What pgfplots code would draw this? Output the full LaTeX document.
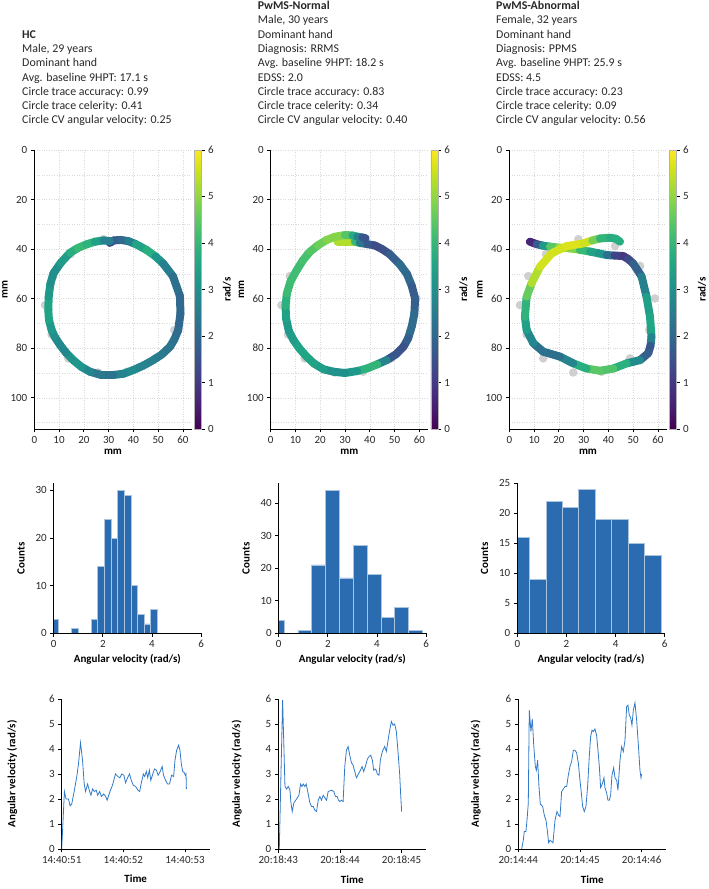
\documentclass[border=0pt]{standalone}
\usepackage{pgfplots}
\pgfplotsset{compat=1.18}
\usepackage{fontspec}
\setmainfont{Carlito}

\definecolor{barblue}{RGB}{43,108,176}
\definecolor{lineblue}{RGB}{50,122,200}
\definecolor{dotgray}{RGB}{200,200,200}
\definecolor{ink}{RGB}{40,40,40}

\newcommand{\tickfont}{\fontsize{11}{12}\selectfont}
\newcommand{\txtfont}{\fontsize{11.9}{14.3}\selectfont}

\pgfplotsset{
  every axis/.append style={
    /pgf/number format/assume math mode=true,
    tick label style={font=\tickfont, text=ink},
    label style={font=\tickfont\bfseries, text=black},
  },
  base/.style={
    scale only axis, anchor=center,
    axis x line=bottom, axis y line=left,
    axis line style={-, line width=0.9pt, black},
    tick align=outside, major tick length=3.5pt, minor tick length=0pt,
    tick style={line width=0.8pt, black},
  },
  trace/.style={
    base, clip mode=individual,
    width=157.3pt, height=279pt,
    xmin=0, xmax=63.5, ymin=0, ymax=112.6, y dir=reverse,
    xtick={0,10,...,60}, ytick={0,20,...,100}, minor ytick={10,30,...,110},
    grid=both, grid style={dotted, gray!30, line width=0.5pt},
    minor grid style={dotted, gray!30, line width=0.5pt},
    xlabel={mm}, ylabel={mm}, ylabel shift=-4pt, xlabel shift=-1pt,
    colorbar, colormap name=viridis,
    point meta min=0, point meta max=6,
    colorbar shift/.style={xshift=2.5pt},
    colorbar style={width=7pt, y dir=normal, ytick={0,1,...,6},
      yticklabel pos=right, ytick pos=right, ylabel={rad/s}, ylabel near ticks,
      ylabel shift=2.5pt, ylabel style={font=\tickfont\bfseries},
      tick align=outside, major tick length=3pt,
      tick style={line width=0.8pt, black}, axis line style={line width=0.5pt, gray!60}},
  },
  hist/.style={
    base, width=147.4pt, height=150pt, axis on top,
    xmin=0, xmax=6, ymin=0, xtick={0,2,4,6},
    xlabel={Angular velocity (rad/s)}, ylabel={Counts}, ylabel shift=4pt,
  },
  speed/.style={
    base, width=148pt, height=150pt,
    xmin=0, xmax=2.4, ymin=0, ymax=6, ytick={0,1,...,6}, xtick={0,1,2},
    xlabel={Time}, ylabel={Angular velocity (rad/s)}, xlabel shift=5pt,
  },
  bars/.style={ybar interval, fill=barblue, draw=white!60!barblue, line width=0.5pt},
  dots/.style={only marks, mark=*, mark size=4pt, color=dotgray,
    mark options={fill=dotgray, draw=dotgray, opacity=0.85}},
  path/.style={mesh, point meta=explicit, line width=8pt, line cap=round, line join=round},
}

\begin{document}
\begin{tikzpicture}
\useasboundingbox (0pt,0pt) rectangle (709pt,889pt);

% patient notes
\begin{scope}[every node/.style={anchor=base west, inner sep=0pt, font=\txtfont, text=ink}]
\node[font=\txtfont\bfseries] at (22pt,850.8pt) {HC};
\node at (22pt,836.5pt) {Male, 29 years};
\node at (22pt,822.2pt) {Dominant hand};
\node at (22pt,807.9pt) {Avg. baseline 9HPT: 17.1 s};
\node at (22pt,793.6pt) {Circle trace accuracy: 0.99};
\node at (22pt,779.3pt) {Circle trace celerity: 0.41};
\node at (22pt,765.0pt) {Circle CV angular velocity: 0.25};

\node[font=\txtfont\bfseries] at (257.7pt,879.4pt) {PwMS-Normal};
\node at (257.7pt,865.1pt) {Male, 30 years};
\node at (257.7pt,850.8pt) {Dominant hand};
\node at (257.7pt,836.5pt) {Diagnosis: RRMS};
\node at (257.7pt,822.2pt) {Avg. baseline 9HPT: 18.2 s};
\node at (257.7pt,807.9pt) {EDSS: 2.0};
\node at (257.7pt,793.6pt) {Circle trace accuracy: 0.83};
\node at (257.7pt,779.3pt) {Circle trace celerity: 0.34};
\node at (257.7pt,765.0pt) {Circle CV angular velocity: 0.40};

\node[font=\txtfont\bfseries] at (496pt,879.4pt) {PwMS-Abnormal};
\node at (496pt,865.1pt) {Female, 32 years};
\node at (496pt,850.8pt) {Dominant hand};
\node at (496pt,836.5pt) {Diagnosis: PPMS};
\node at (496pt,822.2pt) {Avg. baseline 9HPT: 25.9 s};
\node at (496pt,807.9pt) {EDSS: 4.5};
\node at (496pt,793.6pt) {Circle trace accuracy: 0.23};
\node at (496pt,779.3pt) {Circle trace celerity: 0.09};
\node at (496pt,765.0pt) {Circle CV angular velocity: 0.56};
\end{scope}

% ---- row 1: traces
\begin{axis}[trace, at={(112.95pt,599.5pt)}]
\addplot[dots] coordinates {(27.9,36) (42.7,38.8) (52.8,46.8) (58.8,59.9) (56.5,72.7)
  (48.7,84.1) (37.3,89.5) (25.8,89.8) (13.7,84.1) (7,74.5) (4.3,62.6) (7.7,50.9) (14.8,42)};
\addplot[path] table[meta=v] {
x y v
30.5 37.5 1.0
32 36.5 1.6
35 36.3 1.9
38 36.8 2.2
41 38 3.0
45.4 40.4 4.0
49 43 3.5
52 45.8 2.8
56 51 2.3
58.8 59 2.1
59 66 2.0
58.1 72.7 2.0
56.5 76.5 2.2
54.8 79.4 2.3
51.5 82.5 2.4
48 84.8 2.6
44 87 2.6
40 88.8 2.8
36 90.3 3.0
31.9 90.8 2.4
27 90.8 2.2
22.5 89.5 2.6
19 87.5 3.0
15.7 84.8 3.3
12.8 81.8 2.9
10.4 78.7 2.7
8.3 75.5 2.9
7 72.7 3.1
5.9 68.5 3.4
5.65 64.6 3.6
5.8 59.2 3.4
6.5 54 3.1
7.7 49.8 2.9
10.7 45.5 3.1
14.4 41.5 3.5
17.5 39.6 4.0
21 38.1 4.1
24.5 37 3.7
28 36.5 3.1
30.5 36.8 2.2
};
\end{axis}

\begin{axis}[trace, at={(349.35pt,599.5pt)}]
\addplot[dots] coordinates {(27.9,36) (42.7,38.8) (52.8,46.8) (58.8,59.9) (56.5,72.7)
  (48.7,84.1) (37.3,89.5) (25.8,89.8) (13.7,84.1) (7,74.5) (4.3,62.6) (7.7,50.9) (14.8,42)};
\addplot[path] table[meta=v] {
x y v
27 37 5.0
31 37 5.6
34 37 5.0
36 37.5 3.0
39 38 1.8
42 38.5 1.5
45 40 1.3
48 42 1.6
52 46 2.0
55 50 2.2
57 55 1.8
58.3 60 1.6
58 66 2.0
57 71 2.2
55.5 76 2.0
53.6 79.4 1.6
50.5 82.5 1.4
46.8 84.8 1.8
43 86.5 3.6
38.8 88.2 4.3
35 89.2 3.5
30 90 3.0
25.5 89.5 3.0
21.3 88.5 3.2
17.5 86.2 3.5
14.5 83.4 3.5
11.5 80 3.6
9.2 76.7 3.4
7.3 73 3.2
6.2 68 3.3
6 63 3.6
6.5 58 4.0
8 53 4.2
10.5 48.5 4.1
13 44.5 4.2
15.9 41 4.3
19 38.5 4.5
22.6 36.3 4.8
26 35 5.0
30 34.3 4.8
33 34.5 4.0
35 35 3.3
37 35.3 2.0
38.3 35.6 1.2
};
\end{axis}

\begin{axis}[trace, at={(587.95pt,599.5pt)}]
\addplot[dots] coordinates {(27.9,36) (42.7,38.8) (52.8,46.8) (58.8,59.9) (56.5,72.7)
  (48.7,84.1) (37.3,89.5) (25.8,89.8) (13.7,84.1) (7,74.5) (4.3,62.6) (7.7,50.9) (14.8,42)};
\addplot[path] table[meta=v] {
x y v
8.3 37 0.4
11 38 0.9
13.5 38.6 2.5
16.4 39 4.0
20 39.4 4.9
24.5 39.7 5.3
28.5 40.3 4.5
32.6 41 3.6
36 41.7 3.4
39.3 42.4 3.0
42.5 42.6 1.5
46 42.8 0.9
48 44 1.1
50 45.8 1.6
53.4 51 2.2
55.4 59.2 3.0
56.8 67.3 3.8
57.4 75.4 3.3
57 79 2.0
56.1 82 1.2
52.8 84.8 2.4
47.4 86.1 3.4
42 88.2 4.2
36.6 89.1 4.5
31.2 88.2 4.4
25.8 86.1 3.1
20.5 83.4 2.3
13.7 81.4 2.1
9.7 78 2.4
7 72.7 3.2
6.3 67.3 3.6
7 59.2 4.2
9 53.8 5.0
12.4 47.1 5.6
17.1 41.7 5.6
23.1 38.8 5.6
29.9 37.7 5.8
33.5 36.5 5.3
36.6 35.7 4.2
40.6 35.4 3.7
43 35.8 3.7
44.7 37 3.8
};
\end{axis}

% ---- row 2: histograms
\begin{axis}[hist, at={(127.4pt,330.7pt)}, ymax=31.5, ytick={0,10,20,30}]
\addplot[bars] coordinates {(-0.1,3) (0.17,0) (0.44,0) (0.71,1) (0.98,0) (1.25,0) (1.52,3)
  (1.79,14) (2.06,24) (2.33,20) (2.60,30) (2.87,29) (3.14,10) (3.41,4) (3.68,2) (3.95,5) (4.22,0)};
\end{axis}

\begin{axis}[hist, at={(352.4pt,330.7pt)}, ymax=46.1, ytick={0,10,...,40}]
\addplot[bars] coordinates {(-0.35,4) (0.215,0) (0.778,1) (1.34,21) (1.90,44) (2.465,17)
  (3.03,27) (3.59,18) (4.155,5) (4.72,8) (5.28,1) (5.84,0)};
\end{axis}

\begin{axis}[hist, at={(591pt,330.7pt)}, ymax=25, ytick={0,5,...,25}]
\addplot[bars] coordinates {(-0.17,16) (0.5,9) (1.17,22) (1.83,21) (2.5,24) (3.17,19)
  (3.83,19) (4.5,15) (5.17,13) (5.84,0)};
\end{axis}

% ---- row 3: angular velocity over time
\begin{axis}[speed, at={(135.7pt,115pt)}, ylabel shift=25pt, xticklabels={14:40:51,14:40:52,14:40:53}]
\addplot[lineblue, line width=0.8pt] coordinates {
(0.000,0) (0.044,2.3) (0.071,2.0) (0.109,2.0) (0.136,1.73) (0.163,1.8) (0.202,2.3)
(0.245,2.9) (0.272,3.4) (0.305,4.25) (0.338,3.55) (0.365,2.6) (0.387,2.3) (0.420,2.6)
(0.447,2.35) (0.474,2.15) (0.501,2.4) (0.529,2.3) (0.561,2.35) (0.583,2.15) (0.616,2.3)
(0.643,2.1) (0.681,2.2) (0.714,2.1) (0.736,1.95) (0.763,2.15) (0.790,2.35) (0.823,2.55)
(0.872,3.0) (0.910,2.9) (0.943,2.85) (0.975,3.0) (1.008,2.95) (1.035,2.65) (1.068,2.85)
(1.101,3.0) (1.128,2.75) (1.161,2.55) (1.199,2.5) (1.237,2.35) (1.264,2.3) (1.292,2.65)
(1.324,3.0) (1.346,2.9) (1.373,3.1) (1.395,2.85) (1.422,3.15) (1.444,2.75) (1.471,2.95)
(1.504,3.2) (1.537,3.15) (1.564,2.95) (1.597,3.1) (1.629,3.3) (1.651,2.95) (1.684,2.75)
(1.717,2.6) (1.749,2.6) (1.782,2.95) (1.815,2.9) (1.837,3.55) (1.864,3.95) (1.896,4.15)
(1.918,3.95) (1.940,3.4) (1.962,3.1) (1.989,3.05) (2.005,2.95) (2.016,3.0) (2.022,2.4)
};
\end{axis}

\begin{axis}[speed, at={(352.3pt,115pt)}, ylabel shift=17pt, xticklabels={20:18:43,20:18:44,20:18:45}]
\addplot[lineblue, line width=0.8pt] coordinates {
(0.016,0) (0.070,5.95) (0.108,2.5) (0.135,2.4) (0.162,2.5) (0.189,2.35) (0.205,1.85)
(0.226,1.5) (0.253,1.85) (0.296,2.0) (0.334,2.15) (0.361,2.6) (0.383,2.5) (0.404,2.6)
(0.431,2.5) (0.453,2.6) (0.485,2.2) (0.512,1.85) (0.539,1.7) (0.566,1.7) (0.593,1.55)
(0.620,1.5) (0.647,1.95) (0.674,2.1) (0.701,1.95) (0.728,2.15) (0.755,2.05) (0.782,1.95)
(0.809,2.3) (0.863,2.35) (0.900,2.3) (0.927,2.1) (0.954,2.1) (0.976,1.95) (0.997,1.9)
(1.024,1.95) (1.051,1.9) (1.078,3.3) (1.105,3.95) (1.132,4.1) (1.159,3.75) (1.186,3.45)
(1.213,3.35) (1.240,3.1) (1.267,2.85) (1.299,3.0) (1.332,3.15) (1.358,3.3) (1.385,3.1)
(1.418,3.35) (1.445,3.6) (1.472,3.7) (1.499,3.75) (1.526,3.55) (1.547,3.15) (1.580,3.2)
(1.606,3.0) (1.633,2.95) (1.655,3.55) (1.687,3.9) (1.725,4.1) (1.752,3.9) (1.774,4.25)
(1.806,4.75) (1.833,5.1) (1.860,4.95) (1.887,5.0) (1.914,4.7) (1.941,3.9) (1.968,3.0)
(1.984,2.2) (2.000,1.5)
};
\end{axis}

\begin{axis}[speed, at={(592.3pt,115pt)}, ylabel shift=18pt, xticklabels={20:14:44,20:14:45,20:14:46}]
\addplot[lineblue, line width=0.8pt] coordinates {
(0.054,0) (0.081,0.35) (0.097,0.7) (0.124,0.7) (0.146,1.3) (0.162,1.85) (0.178,5.55)
(0.205,4.7) (0.227,5.2) (0.249,4.2) (0.276,3.3) (0.292,3.15) (0.314,3.55) (0.335,2.5)
(0.357,1.8) (0.395,1.7) (0.422,1.35) (0.449,1.15) (0.470,0.75) (0.492,0.25) (0.514,0.35)
(0.541,0.3) (0.562,0.25) (0.595,1.15) (0.627,1.5) (0.654,1.35) (0.676,1.3) (0.703,2.3)
(0.730,2.4) (0.757,2.5) (0.784,2.5) (0.811,2.95) (0.838,3.3) (0.865,3.5) (0.892,3.95)
(0.919,3.95) (0.946,3.85) (0.973,3.45) (1.000,2.75) (1.022,2.25) (1.043,1.7) (1.070,1.5)
(1.097,1.7) (1.124,2.5) (1.151,3.7) (1.173,4.5) (1.195,4.75) (1.216,4.7) (1.243,4.8)
(1.270,4.55) (1.292,3.95) (1.314,3.3) (1.335,2.45) (1.362,2.6) (1.389,2.85) (1.405,2.45)
(1.432,2.25) (1.454,1.95) (1.476,1.95) (1.497,2.15) (1.519,2.95) (1.546,3.25) (1.568,2.85)
(1.595,2.75) (1.616,2.35) (1.649,3.55) (1.676,4.1) (1.703,3.9) (1.730,4.35) (1.757,5.7)
(1.778,5.75) (1.800,5.35) (1.822,5.25) (1.843,4.95) (1.865,5.55) (1.892,5.85) (1.919,5.15)
(1.946,4.2) (1.973,3.15) (1.989,2.85) (2.000,3.0)
};
\end{axis}
\end{tikzpicture}
\end{document}
